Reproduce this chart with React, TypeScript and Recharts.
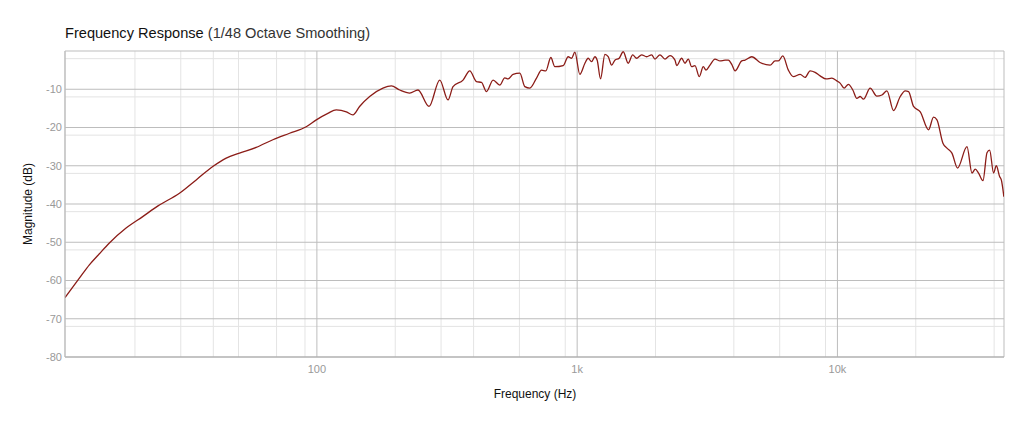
import React from 'react';
import { LineChart, Line, XAxis, YAxis, CartesianGrid } from 'recharts';

const freqs: number[] = [
  10.77, 12.23, 13.36, 14.6, 15.95, 18.49, 21.42, 24.52, 29.64, 34.38, 39.81, 44.83, 50.42, 58.47, 67.73, 78.52, 91.0, 99.5,
  110.2, 118.7, 129.8, 137.5, 145.9, 159.5, 179.4, 193.2, 208.0, 227.3, 244.6, 269.7, 296.5, 319.0, 333.5, 364.4, 386.7,
  410.4, 428.9, 448.3, 475.3, 504.3, 527.1, 542.7, 567.3, 602.1, 629.3, 657.9, 698.0, 729.7, 757.9, 792.2, 820.8, 883.5,
  923.5, 951.7, 980.0, 1024, 1071, 1102, 1136, 1170, 1194, 1230, 1278, 1316, 1357, 1396, 1450, 1503, 1571, 1634, 1692,
  1769, 1849, 1933, 1990, 2080, 2175, 2273, 2376, 2412, 2521, 2596, 2673, 2754, 2836, 2946, 3052, 3126, 3239, 3385, 3538,
  3700, 3809, 3926, 4042, 4290, 4416, 4687, 5042, 5510, 5760, 5931, 6166, 6479, 6773, 7189, 7511, 7852, 8209, 8580, 9050,
  9517, 9948, 10240, 10610, 11020, 11460, 11870, 12230, 12590, 13360, 14170, 14820, 15490, 16430, 17430, 18220, 18760,
  19610, 20810, 22390, 23400, 24120, 25430, 26350, 27540, 28940, 31460, 32880, 33850, 34850, 36240, 37550, 38430, 39810,
  40780, 41990, 42630, 43600,
];

const magnitudes: number[] = [
  -64.5, -59.4, -55.9, -53.0, -50.2, -46.3, -43.3, -40.5, -37.2, -33.7, -30.2, -28.0, -26.7, -25.2, -23.2, -21.5, -19.8, -18.0,
  -16.3, -15.4, -15.9, -16.7, -14.5, -11.9, -9.7, -9.1, -10.2, -11.0, -10.2, -14.5, -7.6, -12.8, -9.3, -7.6, -5.2,
  -8.0, -8.2, -10.6, -7.6, -8.9, -7.0, -7.3, -6.1, -5.8, -9.3, -9.7, -7.1, -5.0, -5.2, -1.7, -4.1, -3.8,
  -1.5, -1.9, -0.3, -6.1, -3.2, -1.9, -2.8, -1.5, -2.4, -7.3, -0.9, -1.5, -3.7, -2.4, -1.9, -0.2, -3.2, -1.0, -1.9,
  -1.0, -1.5, -1.0, -2.1, -1.0, -2.1, -1.2, -2.4, -3.8, -1.9, -3.2, -2.1, -4.1, -3.8, -6.7, -4.1, -5.0, -3.7, -2.1, -2.6,
  -2.4, -2.4, -3.5, -5.2, -2.6, -2.4, -1.5, -3.0, -3.7, -2.6, -2.6, -1.3, -5.0, -6.7, -6.1, -6.9, -5.2, -5.6, -6.5, -7.3,
  -7.1, -7.8, -8.4, -9.7, -8.7, -10.2, -12.4, -11.9, -12.6, -9.7, -11.8, -11.5, -10.4, -15.6, -11.9, -10.4, -10.6,
  -14.5, -15.9, -20.6, -17.3, -18.0, -24.1, -25.4, -26.7, -30.6, -25.0, -31.9, -30.9, -31.9, -33.9, -26.6, -25.9, -31.9,
  -30.0, -32.8, -33.7, -38.1,
];

const xTicks: number[] = [100, 1000, 10000];
const xTickLabels: string[] = ['100', '1k', '10k'];
const yTicks: number[] = [-80, -70, -60, -50, -40, -30, -20, -10];

const X_MIN = 10.77;
const X_MAX = 43650;

const data = freqs.map((f, i) => ({ f, m: magnitudes[i] }));

const majorV: number[] = [X_MIN, 100, 1000, 10000, X_MAX];
const minorV: number[] = [];
[10, 100, 1000, 10000].forEach((d) => {
  for (let k = 2; k <= 9; k++) {
    const v = d * k;
    if (v > X_MIN && v < X_MAX) minorV.push(v);
  }
});
const majorH: number[] = [-80, -70, -60, -50, -40, -30, -20, -10, 0];
const minorH: number[] = [];
for (let v = -78; v < 0; v += 2) {
  if (v % 10 !== 0) minorH.push(v);
}

const FONT = '"Helvetica Neue", Helvetica, Arial, "Liberation Sans", sans-serif';
const TICK_STYLE = { fill: '#999999', stroke: 'none', fontSize: 11, fontFamily: FONT };

export default function App() {
  return (
    <div style={{ position: 'absolute', left: 0, top: 0, width: 1024, height: 427, background: '#fff', fontFamily: FONT }}>
      <div style={{ position: 'absolute', left: 65, top: 24, fontSize: 14.6, whiteSpace: 'nowrap', lineHeight: '18px' }}>
        <span style={{ color: '#111', fontWeight: 500 }}>Frequency Response</span>
        <span style={{ color: '#333' }}> (1/48 Octave Smoothing)</span>
      </div>
      <div
        style={{
          position: 'absolute', left: 28, top: 204, fontSize: 12, color: '#111', whiteSpace: 'nowrap',
          transform: 'translate(-50%, -50%) rotate(-90deg)',
        }}
      >
        Magnitude (dB)
      </div>
      <div
        style={{
          position: 'absolute', left: 535, top: 394, fontSize: 12, color: '#111', whiteSpace: 'nowrap',
          transform: 'translate(-50%, -50%)',
        }}
      >
        Frequency (Hz)
      </div>
      <LineChart width={1024} height={427} data={data} margin={{ top: 51, right: 20, bottom: 40, left: 5 }}>
        <CartesianGrid stroke="#e4e4e4" strokeWidth={1} horizontalValues={minorH} verticalValues={minorV} />
        <CartesianGrid stroke="#bdbdbd" strokeWidth={1} horizontalValues={majorH} verticalValues={majorV} />
        <XAxis
          dataKey="f"
          type="number"
          scale="log"
          domain={[X_MIN, X_MAX]}
          allowDataOverflow
          ticks={xTicks}
          tickFormatter={(v: number) => xTickLabels[xTicks.indexOf(v)] ?? String(v)}
          tickLine={false}
          axisLine={{ stroke: '#aaaaaa' }}
          tickSize={2}
          tickMargin={6}
          height={30}
          tick={TICK_STYLE}
        />
        <YAxis
          type="number"
          domain={[-80, 0]}
          allowDataOverflow
          ticks={yTicks}
          tickLine={false}
          axisLine={{ stroke: '#bdbdbd' }}
          tickSize={2}
          tickMargin={1}
          width={60}
          tick={TICK_STYLE}
        />
        <Line
          dataKey="m"
          type="monotone"
          stroke="#8b1c17"
          strokeWidth={1.3}
          dot={false}
          isAnimationActive={false}
        />
      </LineChart>
    </div>
  );
}
